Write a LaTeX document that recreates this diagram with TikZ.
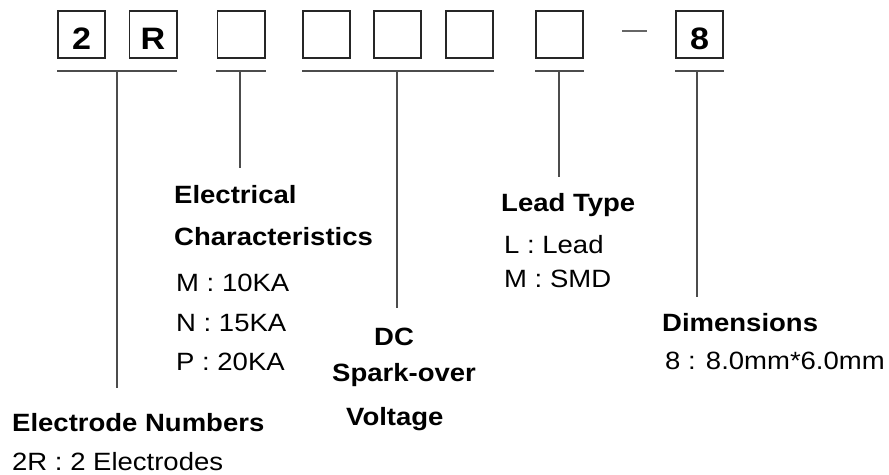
\documentclass[tikz,border=0pt]{standalone}
\usepackage{fontspec}
\setmainfont{Liberation Sans}[FakeStretch=1.1]
\begin{document}
\begin{tikzpicture}[x=1pt,y=-1pt,
  box/.style={draw=black!85,line width=1.6pt,minimum width=47.4pt,minimum height=47.4pt,
    inner sep=0pt,text height=30pt,text depth=0pt,font=\fontsize{31}{31}\selectfont\bfseries},
  rule/.style={draw=black!70,line width=1.8pt},
  dashline/.style={draw=black!60,line width=1.6pt},
  head/.style={anchor=base west,inner sep=0pt,font=\fontsize{25}{25}\selectfont\bfseries},
  item/.style={anchor=base west,inner sep=0pt,font=\fontsize{25}{25}\selectfont}]
\useasboundingbox (0,0) rectangle (889,474);
% boxes
\node[box] (b1) at (81.5,34.5) {2};
\node[box] (b2) at (153,34.5) {R};
\node[box] (b3) at (241,34.5) {};
\node[box] (b4) at (326.5,34.5) {};
\node[box] (b5) at (397.5,34.5) {};
\node[box] (b6) at (469.5,34.5) {};
\node[box] (b7) at (559.5,34.5) {};
\node[box] (b8) at (699.5,34.5) {8};
% dash
\coordinate (d1) at (622,31);
\coordinate (d2) at (647,31);
\draw[dashline] (d1) -- (d2);
% underlines
\coordinate (u1a) at (57,71);  \coordinate (u1b) at (177,71);
\coordinate (u2a) at (216,71); \coordinate (u2b) at (266,71);
\coordinate (u3a) at (302,71); \coordinate (u3b) at (494,71);
\coordinate (u4a) at (535,71); \coordinate (u4b) at (584,71);
\coordinate (u5a) at (675,71); \coordinate (u5b) at (724,71);
\draw[rule] (u1a) -- (u1b);
\draw[rule] (u2a) -- (u2b);
\draw[rule] (u3a) -- (u3b);
\draw[rule] (u4a) -- (u4b);
\draw[rule] (u5a) -- (u5b);
% stems
\coordinate (s1a) at (117,71);  \coordinate (s1b) at (117,388);
\coordinate (s2a) at (240,71);  \coordinate (s2b) at (240,168);
\coordinate (s3a) at (397,71);  \coordinate (s3b) at (397,308);
\coordinate (s4a) at (559,71);  \coordinate (s4b) at (559,177);
\coordinate (s5a) at (697,71);  \coordinate (s5b) at (697,297);
\draw[rule] (s1a) -- (s1b);
\draw[rule] (s2a) -- (s2b);
\draw[rule] (s3a) -- (s3b);
\draw[rule] (s4a) -- (s4b);
\draw[rule] (s5a) -- (s5b);
% labels
\node[head] (ec1) at (174,203) {Electrical};
\node[head] (ec2) at (174,245) {Characteristics};
\node[item] (ecm) at (176,291.5) {M : 10KA};
\node[item] (ecn) at (176,331.5) {N : 15KA};
\node[item] (ecp) at (176,370.5) {P : 20KA};
\node[head] (dc1) at (374,345) {DC};
\node[head] (dc2) at (332,381) {Spark-over};
\node[head] (dc3) at (346,425) {Voltage};
\node[head] (en1) at (12,431.5) {Electrode Numbers};
\node[item] (en2) at (12,470) {2R : 2 Electrodes};
\node[head] (lt1) at (501,211.5) {Lead Type};
\node[item] (lt2) at (504,253) {L : Lead};
\node[item] (lt3) at (504,287) {M : SMD};
\node[head] (dm1) at (662,331.5) {Dimensions};
\node[item] (dm2) at (665,369) {8 : 8.0mm*6.0mm};
\end{tikzpicture}
\end{document}
